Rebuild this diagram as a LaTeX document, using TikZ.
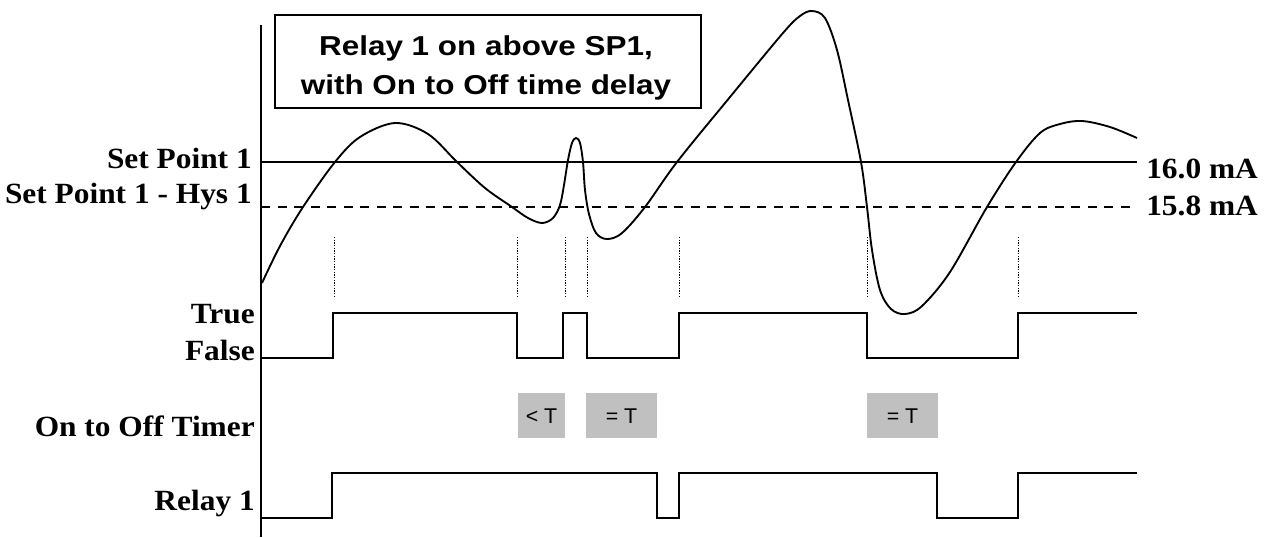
\documentclass[tikz,border=0pt]{standalone}
\usepackage{fontspec}
\newfontfamily\labfont{Liberation Serif}[FakeStretch=1.07]
\newfontfamily\titlefont{Liberation Sans}[FakeStretch=1.15]
\newfontfamily\boxfont{Liberation Sans}
\definecolor{tgrey}{RGB}{192,192,192}
\begin{document}
\begin{tikzpicture}[x=0.75pt,y=-0.75pt,
  lab/.style={font=\labfont\bfseries\fontsize{22}{25}\selectfont, inner sep=0pt},
  thick line/.style={line width=1.5pt},
  curve line/.style={line width=1.4pt, line join=round},
  guide/.style={line width=0.7pt, dash pattern=on 1pt off 1pt},
  tbox/.style={fill=tgrey, draw=none, inner sep=0pt},
  boxtext/.style={font=\boxfont\fontsize{16}{18}\selectfont, anchor=base, inner sep=0pt},
  sig/.style={line width=1.5pt, line join=miter}]
\useasboundingbox (0,0) rectangle (1282,537);
% axis
\coordinate (axtop) at (261,25);
\coordinate (axbot) at (261,537);
\draw[thick line] (axtop) -- (axbot);
% title
\node[draw, line width=1.3pt, minimum width=426*0.75pt, minimum height=93*0.75pt, inner sep=0pt] (title) at (488,61.5) {};
\node[font=\titlefont\bfseries\fontsize{20.5}{29}\selectfont, anchor=base, inner sep=0pt] (t1) at (486,55) {Relay 1 on above SP1,};
\node[font=\titlefont\bfseries\fontsize{20.5}{29}\selectfont, anchor=base, inner sep=0pt] (t2) at (486,94) {with On to Off time delay};
% set point lines
\coordinate (sp1a) at (261,162); \coordinate (sp1b) at (1137,162);
\coordinate (hysa) at (261,207); \coordinate (hysb) at (1137,207);
\draw[line width=1.4pt] (sp1a) -- (sp1b);
\draw[line width=1.3pt, dash pattern=on 6.8pt off 5.6pt] (hysa) -- (hysb);
% labels
\node[lab, anchor=base east] (lsp) at (252,168) {Set Point 1};
\node[lab, anchor=base east] (lhys) at (252,203) {Set Point 1 - Hys 1};
\node[lab, anchor=base west] (r16) at (1146,178) {16.0 mA};
\node[lab, anchor=base west] (r158) at (1146,215) {15.8 mA};
\node[lab, anchor=base east] (ltrue) at (255,323) {True};
\node[lab, anchor=base east] (lfalse) at (255,360) {False};
\node[lab, anchor=base east] (ltimer) at (255,436) {On to Off Timer};
\node[lab, anchor=base east] (lrelay) at (255,510) {Relay 1};
% guide dotted lines
\foreach \gx in {334,517,565,587,679,867,1018}{
  \draw[guide] (\gx,237) -- (\gx,298);
}
% process curve
\draw[curve line] plot[smooth, tension=0.55] coordinates {
(262,283) (280,246) (303,207) (335,162) (360,137) (395,123) (428,134) (457,162) (485,188) (512,207) (528,218) (542,223) (553,218) (560,205) (564,185) (568,160) (572,143) (576,138) (580,143) (583,162) (585,190) (589,214) (596,233) (607,239) (622,233) (645,207) (677,162) (730,97) (783,33) (800,16) (812,11) (825,18) (837,50) (848,100) (861,162) (867,207) (872,250) (880,290) (891,309) (905,314) (922,306) (950,272) (987,207) (1016,162) (1040,133) (1060,124) (1082,121) (1110,127) (1137,138)};
% True/False signal
\draw[sig] (261,358) -| (333,313) -| (517,358) -| (563,313) -| (587,358) -| (679,313) -| (867,358) -| (1018,313) -- (1137,313);
% Relay signal
\draw[sig] (261,518) -| (332,473) -| (657,518) -| (679,473) -| (937,518) -| (1018,473) -- (1137,473);
% timer boxes
\node[tbox, minimum width=47*0.75pt, minimum height=45*0.75pt] (b1) at (541.5,415.5) {};
\node[tbox, minimum width=71*0.75pt, minimum height=45*0.75pt] (b2) at (621.5,415.5) {};
\node[tbox, minimum width=71*0.75pt, minimum height=45*0.75pt] (b3) at (902.5,415.5) {};
\node[boxtext] (b1t) at (541.5,423) {< T};
\node[boxtext] (b2t) at (621.5,423) {= T};
\node[boxtext] (b3t) at (902.5,423) {= T};
\end{tikzpicture}
\end{document}
